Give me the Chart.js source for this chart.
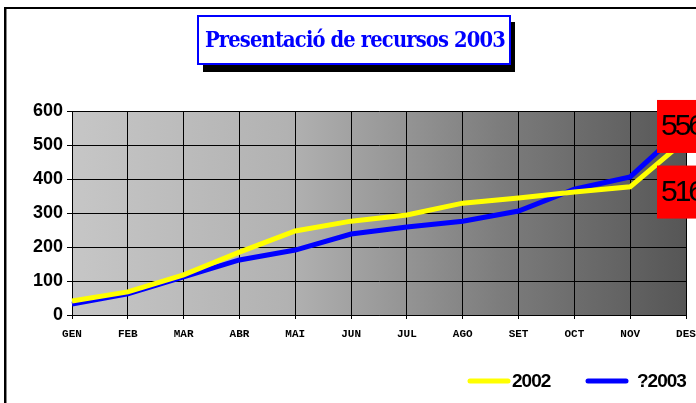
<!DOCTYPE html>
<html>
<head>
<meta charset="utf-8">
<script src="https://cdn.jsdelivr.net/npm/chart.js@4"></script>
<style>
    html, body { margin: 0; padding: 0; background: #fff; }
    #wrap { width: 696px; height: 403px; position: relative; overflow: hidden; }
</style>
</head>
<body>
<div id="wrap"><canvas id="chart" width="696" height="403"></canvas></div>
<script>
// ---- Data ----
const months = ['GEN', 'FEB', 'MAR', 'ABR', 'MAI', 'JUN', 'JUL', 'AGO', 'SET', 'OCT', 'NOV', 'DES'];
const values2002 = [41, 68, 118, 185, 247, 276, 294, 329, 344, 362, 377, 516];
const values2003 = [32, 62, 112, 162, 191, 238, 259, 276, 306, 370, 406, 556];
const yTicks = [0, 100, 200, 300, 400, 500, 600];
const titleText = 'Presentació de recursos 2003';

// ---- Plugins ----

// outer frame, title box, gradient plot background
const framePlugin = {
    id: 'frame',
    beforeDraw(chart) {
        const ctx = chart.ctx;
        const a = chart.chartArea;
        ctx.save();
        ctx.fillStyle = '#fff';
        ctx.fillRect(0, 0, chart.width, chart.height);

        // plot background gradient
        const g = ctx.createLinearGradient(a.left, 0, a.right, 0);
        g.addColorStop(0, '#c6c6c6');
        g.addColorStop(0.35, '#b2b2b2');
        g.addColorStop(0.7, '#7c7c7c');
        g.addColorStop(1, '#565656');
        ctx.fillStyle = g;
        ctx.fillRect(a.left, a.top, a.right - a.left, a.bottom - a.top);

        // frame (left + top)
        ctx.strokeStyle = '#888';
        ctx.lineWidth = 1;
        ctx.beginPath();
        ctx.moveTo(6.5, 9); ctx.lineTo(6.5, chart.height);
        ctx.stroke();
        ctx.strokeStyle = '#000';
        ctx.lineWidth = 2;
        ctx.beginPath();
        ctx.moveTo(5, chart.height); ctx.lineTo(5, 8); ctx.lineTo(chart.width, 8);
        ctx.stroke();

        // title shadow + box
        ctx.fillStyle = '#000';
        ctx.fillRect(203, 22, 312, 50);
        ctx.fillStyle = '#fff';
        ctx.fillRect(197, 15, 314, 50);
        ctx.strokeStyle = '#0000ff';
        ctx.lineWidth = 2;
        ctx.strokeRect(198, 16, 312, 48);

        ctx.font = 'bold 23px "DejaVu Serif", "Liberation Serif", serif';
        ctx.fillStyle = '#0000ff';
        ctx.textBaseline = 'alphabetic';
        ctx.letterSpacing = '-1px';
        const w = ctx.measureText(titleText).width;
        ctx.translate(205, 47);
        ctx.scale(300 / w, 1);
        ctx.fillText(titleText, 0, 0);
        ctx.restore();
    }
};

// red value boxes at the last point + legend
const labelPlugin = {
    id: 'lastLabels',
    afterDatasetsDraw(chart) {
        const ctx = chart.ctx;
        ctx.save();
        chart.data.datasets.forEach((ds, i) => {
            const meta = chart.getDatasetMeta(i);
            const n = ds.data.length;
            const pt = meta.data[n - 1];
            const top = i === 1 ? pt.y - 26 : pt.y + 26;
            const left = pt.x - 29;
            ctx.fillStyle = '#ff0000';
            ctx.fillRect(left, top, 70, 53);
            ctx.fillStyle = '#000';
            ctx.font = '30px "Liberation Sans", Arial, sans-serif';
            ctx.letterSpacing = '-3px';
            ctx.textBaseline = 'middle';
            ctx.textAlign = 'left';
            ctx.fillText(String(ds.data[n - 1]), left + 4, top + 27);
        });
        ctx.restore();
    },
    afterDraw(chart) {
        const ctx = chart.ctx;
        ctx.save();
        const items = [
            { lx: 470, tx: 512 },
            { lx: 588, tx: 637 }
        ];
        chart.data.datasets.forEach((ds, i) => {
            const it = items[i];
            ctx.strokeStyle = ds.borderColor;
            ctx.lineWidth = 5;
            ctx.lineCap = 'round';
            ctx.beginPath();
            ctx.moveTo(it.lx, 381); ctx.lineTo(it.lx + 38, 381);
            ctx.stroke();
            ctx.fillStyle = '#000';
            ctx.font = 'bold 19px "Liberation Sans", Arial, sans-serif';
            ctx.letterSpacing = '-1px';
            ctx.textBaseline = 'middle';
            ctx.fillText(ds.label, it.tx, 382);
        });
        ctx.restore();
    }
};

// ---- Chart ----
new Chart(document.getElementById('chart'), {
    type: 'line',
    data: {
        labels: months,
        datasets: [{
            label: '2002',
            data: values2002,
            borderColor: '#ffff00',
            borderWidth: 5,
            pointRadius: 0,
            tension: 0,
        }, {
            label: '?2003',
            data: values2003,
            borderColor: '#0000ff',
            borderWidth: 5,
            pointRadius: 0,
            tension: 0,
        }]
    },
    options: {
        responsive: false,
        devicePixelRatio: 1,
        animation: false,
        layout: { padding: { top: 111, right: 10, left: 0, bottom: 0 } },
        plugins: {
            legend: { display: false },
            title: { display: false },
            tooltip: { enabled: false },
        },
        scales: {
            x: {
                offset: false,
                border: { display: true, color: '#000', width: 1 },
                grid: { color: '#000', lineWidth: 1, tickLength: 4, drawOnChartArea: true },
                ticks: {
                    color: '#000',
                    font: { family: '"Liberation Mono", "DejaVu Sans Mono", monospace', size: 11, weight: 'bold' },
                    maxRotation: 0,
                    autoSkip: false,
                    padding: 9,
                },
                afterFit(scale) {
                    scale.height = 88;
                    scale.paddingLeft = 0;
                    scale.paddingRight = 0;
                }
            },
            y: {
                min: 0,
                max: 600,
                border: { display: true, color: '#000', width: 1 },
                grid: { color: '#000', lineWidth: 1, tickLength: 5 },
                afterBuildTicks(scale) {
                    scale.ticks = yTicks.map(v => ({ value: v }));
                },
                ticks: {
                    color: '#000',
                    font: { family: '"Liberation Sans", Arial, sans-serif', size: 18, weight: 'bold' },
                    padding: 4,
                },
                afterFit(scale) {
                    scale.width = 72;
                }
            }
        }
    },
    plugins: [framePlugin, labelPlugin]
});
</script>
</body>
</html>
